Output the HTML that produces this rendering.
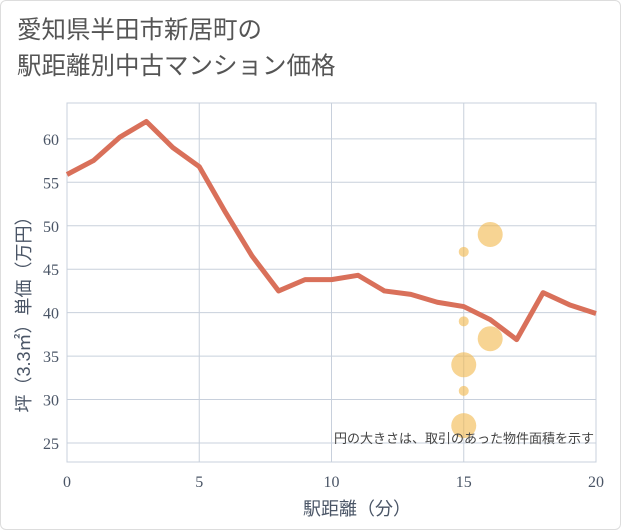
<!DOCTYPE html>
<html><head><meta charset="utf-8"><style>
body{margin:0;background:#fff}
#wrap{position:relative;width:619px;height:528px;border:1px solid #ddd;border-radius:6px;background:#fff;font-family:"Liberation Sans","Noto Sans CJK JP",sans-serif}
h1{position:absolute;left:16px;top:12px;margin:0;font-weight:normal;font-size:24.5px;line-height:36px;color:#555}
</style></head><body>
<div id="wrap">
<h1>愛知県半田市新居町の<br>駅距離別中古マンション価格</h1>
<svg id="c" width="621" height="530" style="position:absolute;left:-1px;top:-1px"></svg>
</div>
<script>
const xs=[0,1,2,3,4,5,6,7,8,9,10,11,12,13,14,15,16,17,18,19,20];
const prices=[55.9,57.5,60.2,62,59,56.8,51.5,46.5,42.5,43.8,43.8,44.3,42.5,42.1,41.2,40.7,39.2,36.9,42.3,40.9,39.9];
const bubbleX=[15,16,15,15,16,15,15];
const bubbleY=[47,49,39,34,37,31,27];
const bubbleSize=[1,3,1,3,3,1,3];
const xTicks=[0,5,10,15,20];
const yTicks=[25,30,35,40,45,50,55,60];
const L=67,R=596,T=103,B=462;
const X=v=>L+(v-0)/20*(R-L);
const Y=v=>443-(v-25)*8.69;
const svg=document.getElementById('c');const NS='http://www.w3.org/2000/svg';
function mk(t,a,p){const e=document.createElementNS(NS,t);for(const k in a)e.setAttribute(k,a[k]);(p||svg).appendChild(e);return e;}
let e=mk('rect',{x:L,y:T,width:R-L,height:B-T,fill:'#fff',stroke:'#c8d0dc'});


yTicks.forEach(v=>{let g=mk('line',{x1:L,x2:R,y1:Y(v),y2:Y(v),stroke:'#c8d0dc'});


let t=mk('text',{x:L-8,y:Y(v)+6,'text-anchor':'end','font-size':16,fill:'#4a5566','font-family':'Liberation Serif,serif'});t.textContent=v;

});
xTicks.forEach(v=>{let g=mk('line',{x1:X(v),x2:X(v),y1:T,y2:B,stroke:'#c8d0dc'});


let t=mk('text',{x:X(v),y:B+25,'text-anchor':'middle','font-size':16,fill:'#4a5566','font-family':'Liberation Serif,serif'});t.textContent=v;

});
bubbleX.forEach((bx,i)=>{let c=mk('circle',{cx:X(bx),cy:Y(bubbleY[i]),r:bubbleSize[i]==3?12.5:5,fill:'#f2b84b','fill-opacity':0.6});

});
let p=mk('polyline',{points:xs.map((x,i)=>X(x)+','+Y(prices[i])).join(' '),fill:'none',stroke:'#d9705a','stroke-width':5,'stroke-linejoin':'round'});


let n=mk('text',{x:R-2,y:443,'text-anchor':'end','font-size':13,fill:'#444'});n.textContent='円の大きさは、取引のあった物件面積を示す';


let xt=mk('text',{x:357,y:515,'text-anchor':'middle','font-size':18,fill:'#4a5566'});xt.textContent='駅距離（分）';


let yt=mk('text',{x:0,y:0,'text-anchor':'middle','font-size':18,fill:'#4a5566',transform:'translate(30,310) rotate(-90)'});yt.textContent='坪（3.3㎡）単価（万円）';


</script>
</body></html>
